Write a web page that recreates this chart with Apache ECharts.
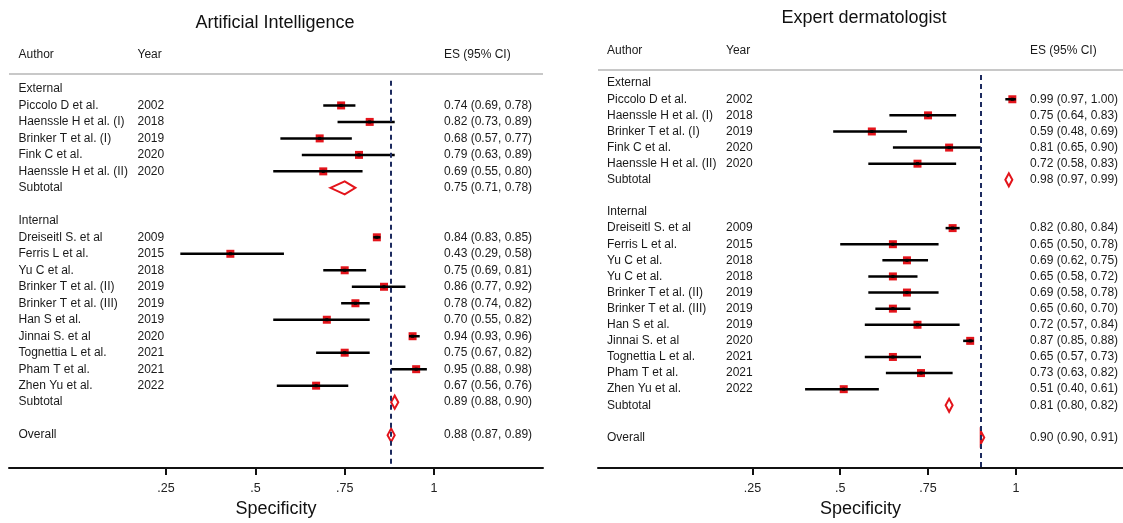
<!DOCTYPE html>
<html>
<head>
<meta charset="utf-8">
<script src="https://cdn.jsdelivr.net/npm/echarts@6/dist/echarts.min.js"></script>
<style>
  html, body { margin: 0; padding: 0; background: #fff; }
  #chart { width: 1123px; height: 523px; }
</style>
</head>
<body>
<div id="chart"></div>
<script>
// ---------- Artificial Intelligence: specificity per study ----------
const aiExtAuthors = ['Piccolo D et al.', 'Haenssle H et al. (I)', 'Brinker T et al. (I)', 'Fink C et al.', 'Haenssle H et al. (II)'];
const aiExtYears   = [2002, 2018, 2019, 2020, 2020];
const aiExtES      = [0.74, 0.82, 0.68, 0.79, 0.69];
const aiExtLo      = [0.69, 0.73, 0.57, 0.63, 0.55];
const aiExtHi      = [0.78, 0.89, 0.77, 0.89, 0.80];
const aiExtSubtotal = [0.75, 0.71, 0.78];

const aiIntAuthors = ['Dreiseitl S. et al', 'Ferris L et al.', 'Yu C et al.', 'Brinker T et al. (II)', 'Brinker T et al. (III)', 'Han S et al.', 'Jinnai S. et al', 'Tognettia L et al.', 'Pham T et al.', 'Zhen Yu et al.'];
const aiIntYears   = [2009, 2015, 2018, 2019, 2019, 2019, 2020, 2021, 2021, 2022];
const aiIntES      = [0.84, 0.43, 0.75, 0.86, 0.78, 0.70, 0.94, 0.75, 0.95, 0.67];
const aiIntLo      = [0.83, 0.29, 0.69, 0.77, 0.74, 0.55, 0.93, 0.67, 0.88, 0.56];
const aiIntHi      = [0.85, 0.58, 0.81, 0.92, 0.82, 0.82, 0.96, 0.82, 0.98, 0.76];
const aiIntSubtotal = [0.89, 0.88, 0.90];
const aiOverall     = [0.88, 0.87, 0.89];

// ---------- Expert dermatologist: specificity per study ----------
const dermExtAuthors = ['Piccolo D et al.', 'Haenssle H et al. (I)', 'Brinker T et al. (I)', 'Fink C et al.', 'Haenssle H et al. (II)'];
const dermExtYears   = [2002, 2018, 2019, 2020, 2020];
const dermExtES      = [0.99, 0.75, 0.59, 0.81, 0.72];
const dermExtLo      = [0.97, 0.64, 0.48, 0.65, 0.58];
const dermExtHi      = [1.00, 0.83, 0.69, 0.90, 0.83];
const dermExtSubtotal = [0.98, 0.97, 0.99];

const dermIntAuthors = ['Dreiseitl S. et al', 'Ferris L et al.', 'Yu C et al.', 'Yu C et al.', 'Brinker T et al. (II)', 'Brinker T et al. (III)', 'Han S et al.', 'Jinnai S. et al', 'Tognettia L et al.', 'Pham T et al.', 'Zhen Yu et al.'];
const dermIntYears   = [2009, 2015, 2018, 2018, 2019, 2019, 2019, 2020, 2021, 2021, 2022];
const dermIntES      = [0.82, 0.65, 0.69, 0.65, 0.69, 0.65, 0.72, 0.87, 0.65, 0.73, 0.51];
const dermIntLo      = [0.80, 0.50, 0.62, 0.58, 0.58, 0.60, 0.57, 0.85, 0.57, 0.63, 0.40];
const dermIntHi      = [0.84, 0.78, 0.75, 0.72, 0.78, 0.70, 0.84, 0.88, 0.73, 0.82, 0.61];
const dermIntSubtotal = [0.81, 0.80, 0.82];
const dermOverall     = [0.90, 0.90, 0.91];

// axis ticks and their labels
const specTicks = [0.25, 0.5, 0.75, 1];
const specTickLabels = ['.25', '.5', '.75', '1'];

const FONT = '"Liberation Sans", Arial, Helvetica, sans-serif';
const TEXT = '#1a1a1a';
const RED = '#e3141b';
const NAVY = '#1c2a5e';

// Lay the table out row by row: group label, studies, subtotal, gap, ..., overall
function buildRows(groups, overall) {
  const rows = [];
  let r = 0;
  groups.forEach((g, gi) => {
    if (gi > 0) r += 1;
    rows.push({ type: 'group', row: r++, label: g.name });
    g.authors.forEach((a, i) => {
      rows.push({ type: 'study', row: r++, label: a, year: g.years[i], es: g.es[i], lo: g.lo[i], hi: g.hi[i] });
    });
    rows.push({ type: 'sub', row: r++, label: 'Subtotal', es: g.sub[0], lo: g.sub[1], hi: g.sub[2] });
  });
  r += 1;
  rows.push({ type: 'sub', row: r++, label: 'Overall', es: overall[0], lo: overall[1], hi: overall[2] });
  return rows;
}

const aiRows = buildRows([
  { name: 'External', authors: aiExtAuthors, years: aiExtYears, es: aiExtES, lo: aiExtLo, hi: aiExtHi, sub: aiExtSubtotal },
  { name: 'Internal', authors: aiIntAuthors, years: aiIntYears, es: aiIntES, lo: aiIntLo, hi: aiIntHi, sub: aiIntSubtotal }
], aiOverall);

const dermRows = buildRows([
  { name: 'External', authors: dermExtAuthors, years: dermExtYears, es: dermExtES, lo: dermExtLo, hi: dermExtHi, sub: dermExtSubtotal },
  { name: 'Internal', authors: dermIntAuthors, years: dermIntYears, es: dermIntES, lo: dermIntLo, hi: dermIntHi, sub: dermIntSubtotal }
], dermOverall);

const fmtCI = r => `${r.es.toFixed(2)} (${r.lo.toFixed(2)}, ${r.hi.toFixed(2)})`;

// squares with CI whiskers, and diamonds for pooled estimates
function markRenderer(rows) {
  return function (params, api) {
    const r = rows[params.dataIndex];
    if (r.type === 'study') {
      const c = api.coord([r.es, r.row]);
      const a = api.coord([r.lo, r.row]);
      const b = api.coord([r.hi, r.row]);
      const s = 8;
      return {
        type: 'group',
        children: [
          { type: 'rect', shape: { x: c[0] - s / 2, y: c[1] - s / 2, width: s, height: s }, style: { fill: RED } },
          { type: 'line', shape: { x1: a[0], y1: a[1], x2: b[0], y2: b[1] }, style: { stroke: '#000', lineWidth: 2.5 } },
          { type: 'rect', shape: { x: c[0] - 1.5, y: c[1] - 1.5, width: 3, height: 3 }, style: { fill: '#000' } }
        ]
      };
    }
    if (r.type === 'sub') {
      const c = api.coord([r.es, r.row]);
      const a = api.coord([r.lo, r.row]);
      const b = api.coord([r.hi, r.row]);
      const h = 6.5;
      return {
        type: 'polygon',
        shape: { points: [[a[0], a[1]], [c[0], c[1] - h], [b[0], b[1]], [c[0], c[1] + h]] },
        style: { fill: '#fff', stroke: RED, lineWidth: 2 }
      };
    }
    return { type: 'group', children: [] };
  };
}

// Author / Year / ES (95% CI) columns
function textRenderer(rows, cols) {
  return function (params, api) {
    const r = rows[params.dataIndex];
    const y = api.coord([0, r.row])[1];
    const t = (x, s) => ({
      type: 'text',
      style: { x: x, y: y, text: s, fill: TEXT, fontSize: 12, fontFamily: FONT, verticalAlign: 'middle', align: 'left' }
    });
    const kids = [t(cols[0], r.label)];
    if (r.type === 'study') kids.push(t(cols[1], String(r.year)));
    if (r.type !== 'group') kids.push(t(cols[2], fmtCI(r)));
    return { type: 'group', children: kids };
  };
}

function xAxisCfg(gridIndex, nameGap) {
  return {
    type: 'value', gridIndex: gridIndex, min: -0.1895, max: 1.305,
    name: 'Specificity', nameLocation: 'middle', nameGap: nameGap,
    nameTextStyle: { fontSize: 18, color: '#111', fontFamily: FONT },
    axisLine: { onZero: false, lineStyle: { color: '#111', width: 2 } },
    axisTick: { show: true, customValues: specTicks, length: 7, lineStyle: { color: '#111', width: 2 } },
    axisLabel: {
      customValues: specTicks, margin: 14, fontSize: 12.5, color: '#222', fontFamily: FONT,
      formatter: v => specTickLabels[specTicks.indexOf(v)]
    },
    splitLine: { show: false }
  };
}

function yAxisCfg(gridIndex, max) {
  return { type: 'value', gridIndex: gridIndex, inverse: true, min: -0.5, max: max, show: false };
}

function panelSeries(rows, axisIndex, cols, overallES) {
  return [
    {
      type: 'custom', xAxisIndex: axisIndex, yAxisIndex: axisIndex, clip: false, silent: true,
      renderItem: markRenderer(rows),
      data: rows.map(r => [r.es || 0, r.row]),
      markLine: {
        silent: true, symbol: ['none', 'none'], animation: false,
        label: { show: false },
        lineStyle: { color: NAVY, width: 2, type: [5, 4] },
        data: [{ xAxis: overallES }]
      },
      z: 3
    },
    {
      type: 'custom', xAxisIndex: axisIndex, yAxisIndex: axisIndex, clip: false, silent: true,
      renderItem: textRenderer(rows, cols),
      data: rows.map(r => [0, r.row]),
      z: 4
    }
  ];
}

const hdr = (x, y, s) => ({ type: 'text', x: x, y: y, style: { text: s, fill: TEXT, fontSize: 12, fontFamily: FONT, verticalAlign: 'middle' } });
const ttl = (x, y, s) => ({ type: 'text', x: x, y: y, style: { text: s, fill: '#111', fontSize: 18, fontFamily: FONT, align: 'center', verticalAlign: 'middle' } });

const chart = echarts.init(document.getElementById('chart'), null, { renderer: 'canvas' });
chart.setOption({
  animation: false,
  backgroundColor: '#fff',
  grid: [
    { left: 9, top: 80.7, width: 534, height: 391.7 },
    { left: 598, top: 75.1, width: 533.6, height: 401.6 }
  ],
  xAxis: [xAxisCfg(0, 30), xAxisCfg(1, 28)],
  yAxis: [yAxisCfg(0, 23), yAxisCfg(1, 23.9)],
  graphic: [
    ttl(275, 23, 'Artificial Intelligence'),
    ttl(864, 18, 'Expert dermatologist'),
    hdr(18.5, 55, 'Author'), hdr(137.5, 55, 'Year'), hdr(444, 55, 'ES (95% CI)'),
    hdr(607, 51, 'Author'), hdr(726, 51, 'Year'), hdr(1030, 51, 'ES (95% CI)'),
    { type: 'line', shape: { x1: 9, y1: 74, x2: 543, y2: 74 }, style: { stroke: '#c8c8c8', lineWidth: 2 } },
    { type: 'line', shape: { x1: 598, y1: 70, x2: 1123, y2: 70 }, style: { stroke: '#c8c8c8', lineWidth: 2 } }
  ],
  series: [
    ...panelSeries(aiRows, 0, [18.5, 137.5, 444], aiOverall[0]),
    ...panelSeries(dermRows, 1, [607, 726, 1030], dermOverall[0])
  ]
});
</script>
</body>
</html>
